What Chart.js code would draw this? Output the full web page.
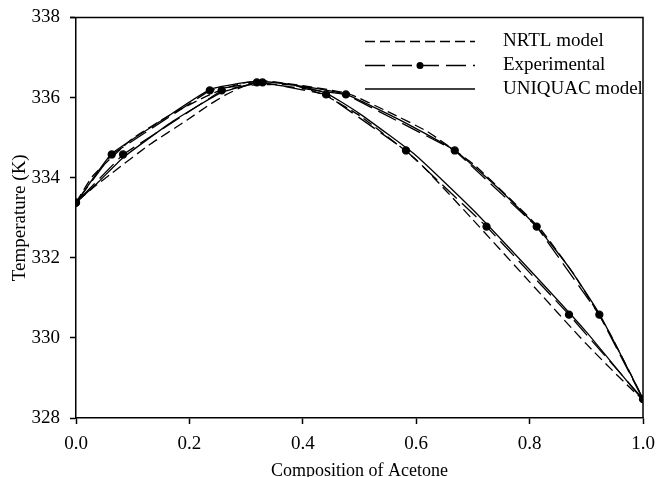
<!DOCTYPE html>
<html>
<head>
<meta charset="utf-8">
<script src="https://cdn.jsdelivr.net/npm/chart.js@4"></script>
<style>
  html, body { margin: 0; padding: 0; background: #fff; overflow: hidden; }
  #wrap { width: 658px; height: 482px; }
</style>
</head>
<body>
<div id="wrap"><canvas id="vleChart" width="658" height="482"></canvas></div>
<script>
// Axis ticks
const xTicks = [0, 0.2, 0.4, 0.6, 0.8, 1.0];
const yTicks = [328, 330, 332, 334, 336, 338];

// Experimental points (vapour branch out, liquid branch back)
const expX = [0, 0.063, 0.236, 0.319, 0.476, 0.668, 0.8125, 0.923, 1, 0.8695, 0.724, 0.582, 0.441, 0.329, 0.257, 0.083, 0];
const expT = [333.38, 334.58, 336.18, 336.38, 336.08, 334.68, 332.78, 330.58, 328.47, 330.58, 332.78, 334.68, 336.08, 336.38, 336.18, 334.58, 333.38];

// NRTL model curve
const nrtlX = [0, 0.03, 0.1, 0.17, 0.24, 0.29, 0.33, 0.4, 0.48, 0.55, 0.62, 0.7, 0.76, 0.82, 0.88, 0.94, 1,
               0.9, 0.8, 0.7, 0.6, 0.5, 0.44, 0.38, 0.3, 0.263, 0.234, 0.196, 0.128, 0.063, 0.03, 0];
const nrtlT = [333.38, 334.05, 334.98, 335.6, 336.1, 336.35, 336.42, 336.3, 336.1, 335.65, 335.15, 334.35, 333.55, 332.7, 331.55, 330.15, 328.47,
               329.85, 331.4, 332.95, 334.45, 335.55, 336.05, 336.32, 336.3, 336.06, 335.81, 335.44, 334.81, 334.11, 333.75, 333.38];

// UNIQUAC model curve
const uniqX = [0, 0.03, 0.063, 0.15, 0.236, 0.3, 0.33, 0.4, 0.476, 0.57, 0.668, 0.74, 0.8125, 0.87, 0.923, 1,
               0.9, 0.8, 0.7, 0.6, 0.5, 0.44, 0.38, 0.33, 0.257, 0.17, 0.083, 0.04, 0];
const uniqT = [333.38, 333.98, 334.6, 335.42, 336.2, 336.38, 336.4, 336.28, 336.08, 335.45, 334.68, 333.8, 332.78, 331.75, 330.6, 328.47,
               330.15, 331.7, 333.2, 334.55, 335.6, 336.12, 336.32, 336.4, 336.13, 335.4, 334.5, 333.9, 333.38];

const toPts = (xs, ys) => xs.map((x, i) => ({ x: x, y: ys[i] }));
const FONT = "'Liberation Serif', 'Times New Roman', serif";

// legend drawn inside the plot, top right
const insideLegend = {
  id: "insideLegend",
  afterDraw(chart) {
    const ctx = chart.ctx;
    const x0 = 365, x1 = 475, tx = 503;
    const rows = [41.5, 65.5, 89];
    ctx.save();
    chart.data.datasets.forEach((ds, i) => {
      const y = rows[i];
      ctx.strokeStyle = "#000";
      ctx.lineWidth = 1.5;
      ctx.setLineDash(ds.borderDash || []);
      ctx.beginPath();
      ctx.moveTo(x0, y);
      ctx.lineTo(x1, y);
      ctx.stroke();
      ctx.setLineDash([]);
      if (ds.pointRadius > 0) {
        ctx.fillStyle = "#000";
        ctx.beginPath();
        ctx.arc((x0 + x1) / 2, y, ds.pointRadius, 0, Math.PI * 2);
        ctx.fill();
      }
      ctx.fillStyle = "#000";
      ctx.font = "19px " + FONT;
      ctx.textBaseline = "middle";
      ctx.fillText(ds.label, tx, y);
    });
    ctx.restore();
  }
};

// top and right frame lines
const frame = {
  id: "frame",
  afterDraw(chart) {
    const a = chart.chartArea, ctx = chart.ctx;
    ctx.save();
    ctx.strokeStyle = "#000";
    ctx.lineWidth = 1.5;
    ctx.beginPath();
    ctx.moveTo(a.left - 6, a.top);
    ctx.lineTo(a.right, a.top);
    ctx.lineTo(a.right, a.bottom);
    ctx.stroke();
    ctx.restore();
  }
};

new Chart(document.getElementById("vleChart").getContext("2d"), {
  type: "scatter",
  data: {
    datasets: [{
      label: "NRTL model",
      data: toPts(nrtlX, nrtlT),
      showLine: true,
      borderColor: "#000",
      borderWidth: 1.3,
      borderDash: [10, 5],
      pointRadius: 0,
      tension: 0.15
    }, {
      label: "Experimental",
      data: toPts(expX, expT),
      showLine: true,
      borderColor: "#000",
      backgroundColor: "#000",
      borderWidth: 1.3,
      borderDash: [20, 7],
      pointRadius: 3.5,
      pointHoverRadius: 3.5,
      tension: 0
    }, {
      label: "UNIQUAC model",
      data: toPts(uniqX, uniqT),
      showLine: true,
      borderColor: "#000",
      borderWidth: 1.3,
      pointRadius: 0,
      tension: 0.15
    }]
  },
  options: {
    responsive: false,
    animation: false,
    layout: { padding: { top: 17.5, right: 15, bottom: 0, left: 0 } },
    plugins: { legend: { display: false }, tooltip: { enabled: false } },
    scales: {
      x: {
        type: "linear",
        min: 0, max: 1,
        afterBuildTicks: s => { s.ticks = xTicks.map(v => ({ value: v })); },
        afterFit: s => { s.height = 64; s.paddingLeft = 0; s.paddingRight = 0; },
        ticks: {
          color: "#000",
          font: { family: FONT, size: 19 },
          padding: 9,
          callback: v => v.toFixed(1)
        },
        grid: { drawOnChartArea: false, tickLength: 6, tickColor: "#000", tickWidth: 1.5 },
        border: { display: true, color: "#000", width: 1.5 },
        title: {
          display: true,
          text: "Composition of Acetone",
          color: "#000",
          font: { family: FONT, size: 18 },
          padding: { top: 0, bottom: 0 }
        }
      },
      y: {
        min: 328, max: 338,
        afterBuildTicks: s => { s.ticks = yTicks.map(v => ({ value: v })); },
        afterFit: s => { s.width = 76; s.paddingTop = 0; s.paddingBottom = 0; },
        ticks: {
          color: "#000",
          font: { family: FONT, size: 19 },
          padding: 10
        },
        grid: { drawOnChartArea: false, tickLength: 6, tickColor: "#000", tickWidth: 1.5 },
        border: { display: true, color: "#000", width: 1.5 },
        title: {
          display: true,
          text: "Temperature (K)",
          color: "#000",
          font: { family: FONT, size: 19 },
          padding: { top: 9, bottom: 0 }
        }
      }
    }
  },
  plugins: [insideLegend, frame]
});
</script>
</body>
</html>
